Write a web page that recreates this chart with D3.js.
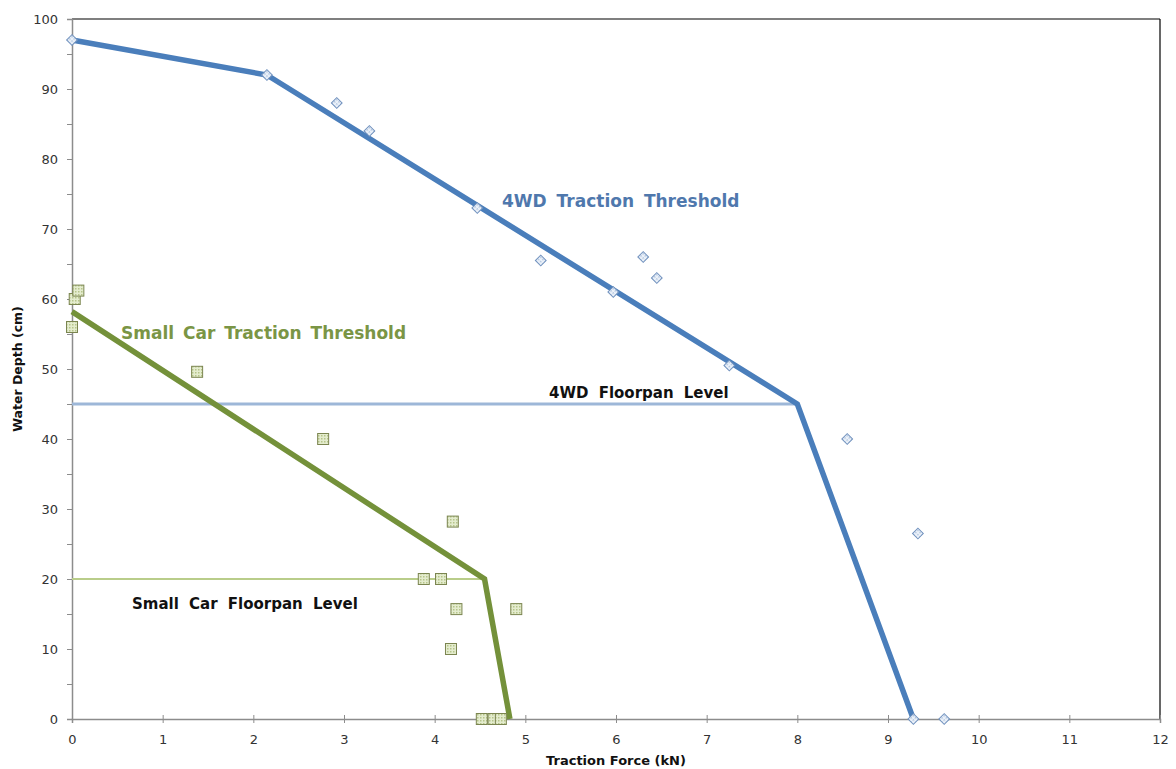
<!DOCTYPE html>
<html>
<head>
<meta charset="utf-8">
<script src="https://cdn.jsdelivr.net/npm/d3@7"></script>
<style>
  body { margin: 0; background: #fff; }
  text { font-family: Tahoma, "DejaVu Sans", sans-serif; }
</style>
</head>
<body>
<div id="chart"></div>
<script>
// 4WD threshold (fitted line) and measured points
const fourWdLine = [[0, 97], [2.15, 92], [8.0, 45], [9.28, 0]];
const fourWdPoints = [
  [0, 97], [2.15, 92], [2.92, 88], [3.28, 84], [4.47, 73], [5.17, 65.5],
  [5.97, 61], [6.3, 66], [6.45, 63], [7.25, 50.5], [8.55, 40], [9.33, 26.5],
  [9.28, 0], [9.62, 0]
];
// small car threshold and measured points
const smallCarLine = [[0, 58.2], [4.55, 20], [4.83, 0]];
const smallCarPoints = [
  [0, 56], [0.03, 60], [0.07, 61.2], [1.38, 49.6], [2.77, 40], [4.2, 28.2],
  [3.88, 20], [4.07, 20], [4.24, 15.7], [4.9, 15.7], [4.18, 10],
  [4.52, 0], [4.65, 0], [4.73, 0]
];
// floorpan levels
const fourWdFloor = [[0, 45], [8.0, 45]];
const smallCarFloor = [[0, 20], [4.55, 20]];

const xTicks = d3.range(0, 13, 1);
const yTicks = d3.range(0, 101, 5);

const width = 1176, height = 769;
const margin = {top: 19, right: 16, bottom: 50, left: 72};

const svg = d3.select("#chart").append("svg")
  .attr("width", width)
  .attr("height", height);

const x = d3.scaleLinear().domain([0, 12]).range([margin.left, width - margin.right]);
const y = d3.scaleLinear().domain([0, 100]).range([height - margin.bottom, margin.top]);

// dotted fill for the markers
const defs = svg.append("defs");
const pat = defs.append("pattern")
  .attr("id", "dots")
  .attr("width", 3).attr("height", 3)
  .attr("patternUnits", "userSpaceOnUse");
pat.append("rect").attr("width", 3).attr("height", 3).attr("fill", "#e4ecce");
pat.append("rect").attr("width", 1.5).attr("height", 1.5).attr("fill", "#b6c48a");

const pat2 = defs.append("pattern")
  .attr("id", "dots2")
  .attr("width", 3).attr("height", 3)
  .attr("patternUnits", "userSpaceOnUse");
pat2.append("rect").attr("width", 3).attr("height", 3).attr("fill", "#eef3fa");
pat2.append("rect").attr("width", 1.5).attr("height", 1.5).attr("fill", "#a9bfdc");

// frame: top and right in black
svg.append("line")
  .attr("x1", x(0)).attr("x2", x(12))
  .attr("y1", y(100)).attr("y2", y(100))
  .attr("stroke", "#000").attr("stroke-width", 1.2);
svg.append("line")
  .attr("x1", x(12)).attr("x2", x(12))
  .attr("y1", y(100)).attr("y2", y(0))
  .attr("stroke", "#000").attr("stroke-width", 1.2);

// y axis
const yAxis = svg.append("g")
  .attr("transform", `translate(${x(0)},0)`)
  .call(d3.axisLeft(y)
    .tickValues(yTicks)
    .tickSize(5)
    .tickPadding(9)
    .tickFormat(d => d % 10 === 0 ? d : ""));
yAxis.select(".domain").attr("stroke", "#8c8c8c").attr("stroke-width", 1.5);
yAxis.selectAll(".tick line").attr("stroke", "#8c8c8c");
yAxis.selectAll(".tick text").attr("font-size", 13).attr("fill", "#333");

// x axis
const xAxis = svg.append("g")
  .attr("transform", `translate(0,${y(0)})`)
  .call(d3.axisBottom(x)
    .tickValues(xTicks)
    .tickSize(4)
    .tickPadding(12));
xAxis.select(".domain").attr("stroke", "#8c8c8c").attr("stroke-width", 1.5);
xAxis.selectAll(".tick line").attr("stroke", "#8c8c8c").attr("y1", -4);
xAxis.selectAll(".tick text").attr("font-size", 13).attr("fill", "#333");

// axis titles
svg.append("text")
  .attr("transform", `translate(22,${(y(0) + y(100)) / 2}) rotate(-90)`)
  .attr("text-anchor", "middle")
  .attr("font-size", 12.5)
  .attr("font-weight", "bold")
  .attr("fill", "#111")
  .text("Water Depth (cm)");
svg.append("text")
  .attr("x", (x(0) + x(12)) / 2)
  .attr("y", 765)
  .attr("text-anchor", "middle")
  .attr("font-size", 13)
  .attr("font-weight", "bold")
  .attr("fill", "#111")
  .text("Traction Force (kN)");

const line = d3.line().x(d => x(d[0])).y(d => y(d[1]));

// floorpan levels
svg.append("path").datum(fourWdFloor)
  .attr("d", line).attr("fill", "none")
  .attr("stroke", "#9db7d8").attr("stroke-width", 3);
svg.append("path").datum(smallCarFloor)
  .attr("d", line).attr("fill", "none")
  .attr("stroke", "#b9cd8a").attr("stroke-width", 2);

// thresholds
svg.append("path").datum(fourWdLine)
  .attr("d", line).attr("fill", "none")
  .attr("stroke", "#4a7ebb").attr("stroke-width", 5.5)
  .attr("stroke-linejoin", "miter");
svg.append("path").datum(smallCarLine)
  .attr("d", line).attr("fill", "none")
  .attr("stroke", "#74913a").attr("stroke-width", 5.5)
  .attr("stroke-linejoin", "miter");

// markers
svg.append("g").selectAll("path")
  .data(fourWdPoints)
  .join("path")
  .attr("transform", d => `translate(${x(d[0])},${y(d[1])}) rotate(45)`)
  .attr("d", "M-3.8,-3.8H3.8V3.8H-3.8Z")
  .attr("fill", "url(#dots2)")
  .attr("stroke", "#6f90bd")
  .attr("stroke-width", 1);

svg.append("g").selectAll("rect")
  .data(smallCarPoints)
  .join("rect")
  .attr("x", d => x(d[0]) - 5.5)
  .attr("y", d => y(d[1]) - 5.5)
  .attr("width", 11).attr("height", 11)
  .attr("fill", "url(#dots)")
  .attr("stroke", "#7b8550")
  .attr("stroke-width", 1);

// labels
svg.append("text")
  .attr("x", 502).attr("y", 207)
  .attr("font-size", 17).attr("font-weight", "bold")
  .attr("word-spacing", 4)
  .attr("fill", "#4f78ad")
  .text("4WD Traction Threshold");
svg.append("text")
  .attr("x", 121).attr("y", 339)
  .attr("font-size", 17).attr("font-weight", "bold")
  .attr("word-spacing", 3)
  .attr("fill", "#7a9545")
  .text("Small Car Traction Threshold");
svg.append("text")
  .attr("x", 549).attr("y", 398)
  .attr("font-size", 15).attr("font-weight", "bold")
  .attr("word-spacing", 5)
  .attr("fill", "#111")
  .text("4WD Floorpan Level");
svg.append("text")
  .attr("x", 132).attr("y", 609)
  .attr("font-size", 15).attr("font-weight", "bold")
  .attr("word-spacing", 5)
  .attr("fill", "#111")
  .text("Small Car Floorpan Level");
</script>
</body>
</html>
